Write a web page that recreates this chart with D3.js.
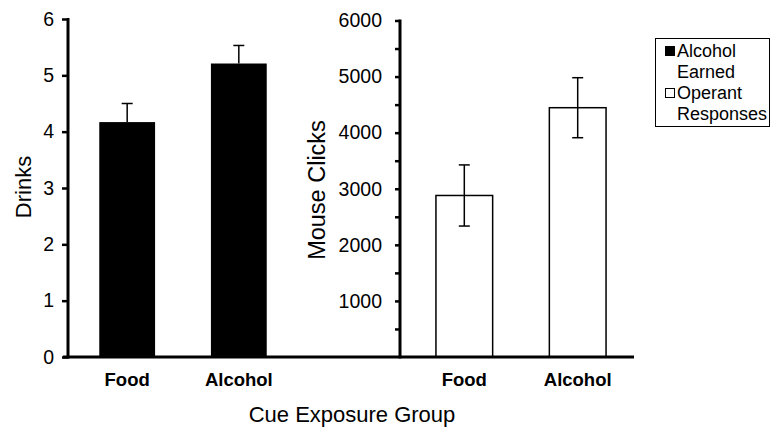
<!DOCTYPE html>
<html>
<head>
<meta charset="utf-8">
<script src="https://cdn.jsdelivr.net/npm/d3@7"></script>
<style>
  html, body { margin: 0; padding: 0; background: #fff; }
  svg { display: block; font-family: Arial, "Liberation Sans", sans-serif; }
</style>
</head>
<body>
<svg id="chart" width="775" height="428"></svg>
<script>
// ---- data ----
const categories = ["Food", "Alcohol"];
const drinksMean = [4.17, 5.21];
const drinksSEM = [0.33, 0.32];
const clicksMean = [2880, 4445];
const clicksSEM = [545, 535];
const drinksTicks = [0, 1, 2, 3, 4, 5, 6];
const clicksTicks = [1000, 2000, 3000, 4000, 5000, 6000];
const clicksMinorTicks = [500, 1500, 2500, 3500, 4500, 5500];
const legendLabels = [["Alcohol", "Earned"], ["Operant", "Responses"]];
const xTitle = "Cue Exposure Group";
const yTitles = ["Drinks", "Mouse Clicks"];

const svg = d3.select("#chart");
const baseY = 357, topY = 19;

// ---- left panel ----
const xL = d3.scaleBand().domain(categories).range([68, 298]).paddingInner(0.5).paddingOuter(0.28);
const yL = d3.scaleLinear().domain([0, 6]).range([baseY, topY]);

const gL = svg.append("g");
gL.selectAll("rect.bar").data(categories).join("rect")
  .attr("x", d => xL(d)).attr("width", xL.bandwidth())
  .attr("y", (d, i) => yL(drinksMean[i]))
  .attr("height", (d, i) => baseY - yL(drinksMean[i]))
  .attr("fill", "#000");
// error bars (upward only)
categories.forEach((c, i) => {
  const cx = xL(c) + xL.bandwidth() / 2;
  gL.append("line").attr("x1", cx).attr("x2", cx)
    .attr("y1", yL(drinksMean[i])).attr("y2", yL(drinksMean[i] + drinksSEM[i]))
    .attr("stroke", "#000").attr("stroke-width", 1.5);
  gL.append("line").attr("x1", cx - 5.5).attr("x2", cx + 5.5)
    .attr("y1", yL(drinksMean[i] + drinksSEM[i])).attr("y2", yL(drinksMean[i] + drinksSEM[i]))
    .attr("stroke", "#000").attr("stroke-width", 1.5);
});
const axL = gL.append("g").attr("transform", "translate(68,0)")
  .call(d3.axisLeft(yL).tickValues(drinksTicks).tickFormat(d3.format("d")).tickSize(6).tickPadding(8));
axL.select(".domain").remove();
axL.selectAll(".tick line").attr("stroke", "#000").attr("stroke-width", 2.5);
axL.selectAll(".tick text").attr("font-size", 19.5).attr("fill", "#000").attr("font-family", "Arial, 'Liberation Sans', sans-serif");
gL.append("line").attr("x1", 68).attr("x2", 68).attr("y1", topY - 1).attr("y2", baseY + 1.5)
  .attr("stroke", "#000").attr("stroke-width", 3);

// ---- right panel ----
const xR = d3.scaleBand().domain(categories).range([400, 642]).paddingInner(0.5).paddingOuter(0.317);
const yR = d3.scaleLinear().domain([0, 6000]).range([baseY, topY + 1.5]);

const gR = svg.append("g");
gR.selectAll("rect.bar").data(categories).join("rect")
  .attr("x", d => xR(d)).attr("width", xR.bandwidth())
  .attr("y", (d, i) => yR(clicksMean[i]))
  .attr("height", (d, i) => baseY - yR(clicksMean[i]))
  .attr("fill", "#fff").attr("stroke", "#000").attr("stroke-width", 1.5);
categories.forEach((c, i) => {
  const cx = xR(c) + xR.bandwidth() / 2;
  const hi = clicksMean[i] + clicksSEM[i], lo = clicksMean[i] - clicksSEM[i];
  gR.append("line").attr("x1", cx).attr("x2", cx).attr("y1", yR(lo)).attr("y2", yR(hi))
    .attr("stroke", "#000").attr("stroke-width", 1.5);
  [hi, lo].forEach(v => gR.append("line").attr("x1", cx - 5.5).attr("x2", cx + 5.5)
    .attr("y1", yR(v)).attr("y2", yR(v)).attr("stroke", "#000").attr("stroke-width", 1.5));
});
const axRminor = gR.append("g").attr("transform", "translate(400,0)")
  .call(d3.axisLeft(yR).tickValues(clicksMinorTicks).tickFormat("").tickSize(5));
axRminor.select(".domain").remove();
axRminor.selectAll(".tick line").attr("stroke", "#000").attr("stroke-width", 2.5);
const axR = gR.append("g").attr("transform", "translate(400,0)")
  .call(d3.axisLeft(yR).tickValues(clicksTicks).tickFormat(d3.format("d")).tickSize(5).tickPadding(13));
axR.select(".domain").remove();
axR.selectAll(".tick line").attr("stroke", "#000").attr("stroke-width", 2.5);
axR.selectAll(".tick text").attr("font-size", 19.5).attr("fill", "#000").attr("font-family", "Arial, 'Liberation Sans', sans-serif");
gR.append("line").attr("x1", 400).attr("x2", 400).attr("y1", yR(6000) - 1).attr("y2", baseY + 1.5)
  .attr("stroke", "#000").attr("stroke-width", 3);

// baseline across both panels
svg.append("line").attr("x1", 63).attr("x2", 634).attr("y1", baseY).attr("y2", baseY)
  .attr("stroke", "#000").attr("stroke-width", 3);

// category labels
[xL, xR].forEach(xs => {
  svg.selectAll(null).data(categories).join("text")
    .attr("x", d => xs(d) + xs.bandwidth() / 2).attr("y", 386)
    .attr("text-anchor", "middle").attr("font-size", 18.5).attr("font-weight", "bold")
    .text(d => d);
});

// titles
svg.append("text").attr("x", 352).attr("y", 422).attr("text-anchor", "middle")
  .attr("font-size", 22).text(xTitle);
svg.append("text").attr("transform", "translate(31,187) rotate(-90)").attr("text-anchor", "middle")
  .attr("font-size", 22).text(yTitles[0]);
svg.append("text").attr("transform", "translate(325,190) rotate(-90)").attr("text-anchor", "middle")
  .attr("font-size", 23.5).text(yTitles[1]);

// legend
const lg = svg.append("g");
lg.append("rect").attr("x", 655.5).attr("y", 38.5).attr("width", 114).attr("height", 88)
  .attr("fill", "#fff").attr("stroke", "#000").attr("stroke-width", 1);
const fills = ["#000", "#fff"];
legendLabels.forEach((lines, i) => {
  const y0 = 57 + i * 42;
  lg.append("rect").attr("x", 665.5).attr("y", y0 - 10.5).attr("width", 9).attr("height", 9)
    .attr("fill", fills[i]).attr("stroke", "#000").attr("stroke-width", 1);
  lines.forEach((t, j) => {
    lg.append("text").attr("x", 677).attr("y", y0 + j * 21).attr("font-size", 18).text(t);
  });
});
</script>
</body>
</html>
